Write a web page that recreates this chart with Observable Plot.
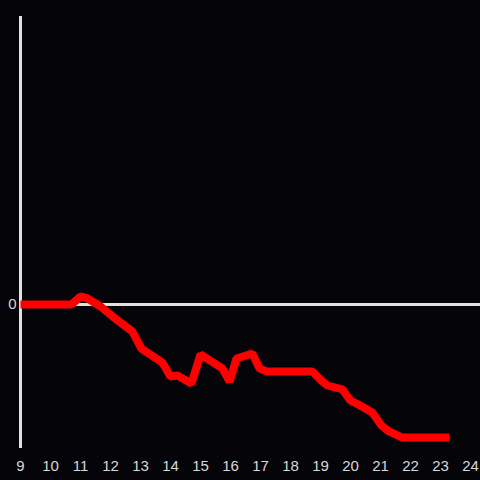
<!DOCTYPE html>
<html>
<head>
<meta charset="utf-8">
<script src="https://cdn.jsdelivr.net/npm/d3@7"></script>
<script src="https://cdn.jsdelivr.net/npm/@observablehq/plot@0.6"></script>
<style>
  html, body { margin: 0; padding: 0; background: #050408; }
  #chart { width: 480px; height: 480px; }
</style>
</head>
<body>
<div id="chart"></div>
<script>
const hours = [9, 10.7, 11.0, 11.23, 11.67, 12.07, 12.73, 13.03, 13.73, 14.0, 14.23, 14.7, 15.0, 15.73, 15.97, 16.2, 16.73, 16.97, 17.2, 18.73, 19.03, 19.23, 19.73, 20.0, 20.2, 20.73, 21.03, 21.27, 21.73, 23.3];
const values = [0, 0, 0.056, 0.042, -0.014, -0.083, -0.1875, -0.306, -0.403, -0.5, -0.493, -0.549, -0.347, -0.444, -0.535, -0.375, -0.34, -0.444, -0.465, -0.465, -0.528, -0.5625, -0.59, -0.667, -0.6875, -0.75, -0.84, -0.88, -0.924, -0.924];
const xTicks = [9, 10, 11, 12, 13, 14, 15, 16, 17, 18, 19, 20, 21, 22, 23, 24];
const yTicks = [0];

const data = hours.map((h, i) => ({hour: h, value: values[i]}));

const chart = Plot.plot({
  width: 480,
  height: 480,
  marginLeft: 20,
  marginRight: 0,
  marginTop: 16,
  marginBottom: 32,
  style: {background: "#050408", color: "#d8d8d8", fontFamily: "'Liberation Sans', Arial, sans-serif", fontSize: "15px"},
  x: {domain: [9, 24.3333], ticks: xTicks, tickSize: 0, tickPadding: 12, tickFormat: d => String(d), label: null},
  y: {domain: [-1, 2], ticks: yTicks, tickSize: 0, tickPadding: 4, tickFormat: d => String(d), label: null},
  marks: [
    Plot.ruleX([9], {stroke: "#e0e0e0", strokeWidth: 3}),
    Plot.ruleY([0], {stroke: "#e0e0e0", strokeWidth: 3}),
    Plot.line(data, {x: "hour", y: "value", stroke: "#ff0000", strokeWidth: 8, strokeLinejoin: "miter", strokeLinecap: "butt"})
  ]
});
document.getElementById("chart").appendChild(chart);
</script>
</body>
</html>
